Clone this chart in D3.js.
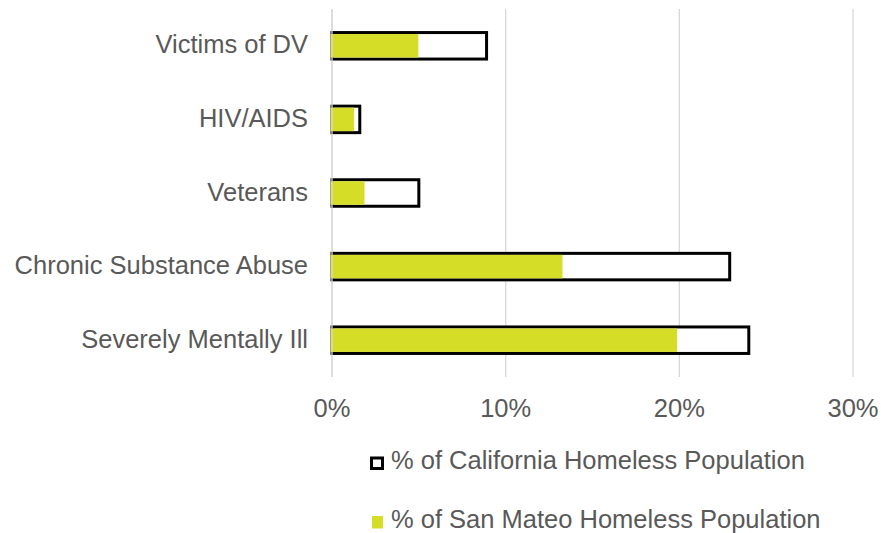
<!DOCTYPE html>
<html>
<head>
<meta charset="utf-8">
<script src="https://cdn.jsdelivr.net/npm/d3@7"></script>
<style>
  html, body { margin: 0; padding: 0; background: #fff; }
  svg text { font-family: "Liberation Sans", Arial, sans-serif; fill: #595959; }
</style>
</head>
<body>
<svg id="chart" width="881" height="533"></svg>
<script>
// Homeless sub-populations, share of total (%)
const categories = ["Victims of DV", "HIV/AIDS", "Veterans", "Chronic Substance Abuse", "Severely Mentally Ill"];
const californiaPct = [8.9, 1.6, 5.0, 22.9, 24.0];
const sanMateoPct = [5.0, 1.3, 1.9, 13.3, 19.9];
const xTicks = [0, 10, 20, 30];
const seriesNames = ["% of California Homeless Population", "% of San Mateo Homeless Population"];

const green = "#d5dd26";
const fontSize = 25.5;
const svg = d3.select("#chart");

const plot = { left: 332, right: 853, top: 9, bottom: 377 };

const x = d3.scaleLinear().domain([0, 30]).range([plot.left, plot.right]);
const y = d3.scaleBand().domain(categories).range([plot.top, plot.bottom]).paddingInner(0.64).paddingOuter(0.32);

// vertical gridlines
svg.append("g").selectAll("line").data(xTicks).join("line")
  .attr("x1", d => x(d)).attr("x2", d => x(d))
  .attr("y1", plot.top).attr("y2", plot.bottom)
  .attr("stroke", "#d9d9d9").attr("stroke-width", 1.3);

const rows = categories.map((c, i) => ({ c, ca: californiaPct[i], sm: sanMateoPct[i] }));
const sw = 3;

// California bars: outlined
svg.append("g").selectAll("rect").data(rows).join("rect")
  .attr("x", x(0)).attr("y", d => y(d.c))
  .attr("width", d => x(d.ca) - x(0)).attr("height", y.bandwidth())
  .attr("fill", "#fff").attr("stroke", "#000").attr("stroke-width", sw);

// San Mateo bars: solid, inside the outline
svg.append("g").selectAll("rect").data(rows).join("rect")
  .attr("x", x(0) - sw / 2).attr("y", d => y(d.c) + sw / 2)
  .attr("width", d => x(d.sm) - x(0) + sw / 2 - 0.5).attr("height", y.bandwidth() - sw)
  .attr("fill", green);

// zero line over the bars
svg.append("line")
  .attr("x1", x(0)).attr("x2", x(0)).attr("y1", plot.top).attr("y2", plot.bottom)
  .attr("stroke", "#d9d9d9").attr("stroke-width", 1.3);

// category labels
svg.append("g").selectAll("text").data(categories).join("text")
  .attr("x", 308).attr("y", d => y(d) + y.bandwidth() / 2)
  .attr("dy", "0.3em").attr("text-anchor", "end")
  .attr("font-size", fontSize).text(d => d);

// x axis labels
svg.append("g").selectAll("text").data(xTicks).join("text")
  .attr("x", d => x(d)).attr("y", 417)
  .attr("text-anchor", "middle")
  .attr("font-size", fontSize).text(d => d + "%");

// legend
const legend = svg.append("g");
const legendBase = [469, 528];
legend.append("rect").attr("x", 371.5).attr("y", 458).attr("width", 11).attr("height", 10.5)
  .attr("fill", "#fff").attr("stroke", "#000").attr("stroke-width", 3);
legend.append("rect").attr("x", 372).attr("y", 516).attr("width", 11).attr("height", 12.5)
  .attr("fill", green);
legend.selectAll("text").data(seriesNames).join("text")
  .attr("x", 391).attr("y", (d, i) => legendBase[i])
  .attr("font-size", fontSize).text(d => d);
</script>
</body>
</html>
